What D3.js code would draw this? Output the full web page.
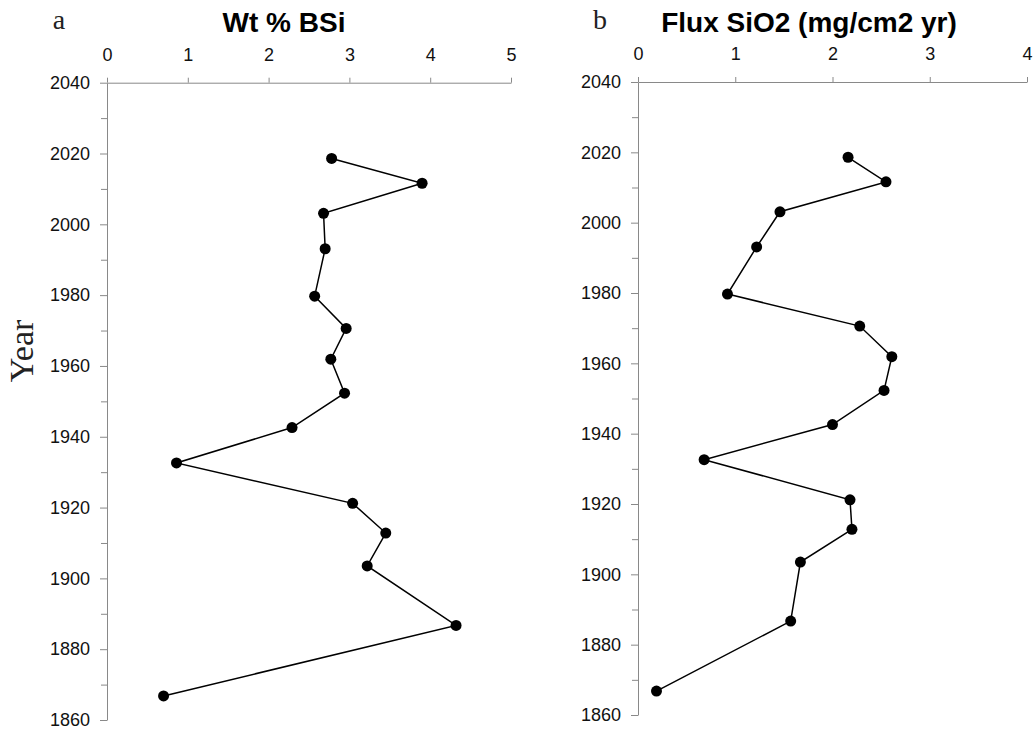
<!DOCTYPE html>
<html>
<head>
<meta charset="utf-8">
<script src="https://cdn.jsdelivr.net/npm/d3@7"></script>
<style>
  body { margin: 0; background: #fff; }
  svg { display: block; }
</style>
</head>
<body>
<svg id="chart" width="1034" height="731"></svg>
<script>
// ---- Data ----
const years = [2018.6, 2011.6, 2003.1, 1993.1, 1979.7, 1970.6, 1961.9, 1952.3, 1942.6, 1932.6, 1921.2, 1912.8, 1903.5, 1886.7, 1866.8];
const bsiValues = [2.78, 3.90, 2.68, 2.70, 2.57, 2.96, 2.77, 2.94, 2.29, 0.86, 3.04, 3.45, 3.22, 4.32, 0.70];
const fluxValues = [2.16, 2.55, 1.46, 1.22, 0.92, 2.28, 2.61, 2.53, 2.00, 0.68, 2.18, 2.20, 1.67, 1.57, 0.19];
const yearTicks = [1860, 1880, 1900, 1920, 1940, 1960, 1980, 2000, 2020, 2040];
const yearMinorTicks = [1870, 1890, 1910, 1930, 1950, 1970, 1990, 2010, 2030];
const bsiTicks = [0, 1, 2, 3, 4, 5];
const fluxTicks = [0, 1, 2, 3, 4];
const panelLetters = ["a", "b"];
const panelTitles = ["Wt % BSi", "Flux SiO2 (mg/cm2 yr)"];
const yTitle = "Year";

const svg = d3.select("#chart");
const axisColor = "#898989";

const panels = [
  { letter: panelLetters[0], title: panelTitles[0], values: bsiValues, xTicks: bsiTicks, xDomain: [0, 5],
    x0: 107, x1: 511, y0: 82.7, y1: 720, titleX: 284, letterX: 59 },
  { letter: panelLetters[1], title: panelTitles[1], values: fluxValues, xTicks: fluxTicks, xDomain: [0, 4],
    x0: 638, x1: 1027, y0: 82, y1: 715, titleX: 809, letterX: 600 }
];

panels.forEach(p => {
  const x = d3.scaleLinear().domain(p.xDomain).range([p.x0, p.x1]);
  const y = d3.scaleLinear().domain([1860, 2040]).range([p.y1, p.y0]);
  const g = svg.append("g");

  // minor y ticks
  g.append("g")
    .attr("transform", `translate(${p.x0},0)`)
    .call(d3.axisLeft(y).tickValues(yearMinorTicks).tickSize(6).tickFormat(""))
    .call(a => a.select(".domain").remove())
    .call(a => a.selectAll("line").attr("stroke", axisColor));

  // major y axis
  g.append("g")
    .attr("transform", `translate(${p.x0},0)`)
    .call(d3.axisLeft(y).tickValues(yearTicks).tickSize(7).tickSizeOuter(0).tickPadding(10).tickFormat(d3.format("d")))
    .call(a => a.select(".domain").attr("stroke", axisColor))
    .call(a => a.selectAll("line").attr("stroke", axisColor))
    .call(a => a.selectAll("text").attr("font-family", "Liberation Sans, Arial, sans-serif").attr("font-size", 18).attr("fill", "#111"));

  // top x axis
  g.append("g")
    .attr("transform", `translate(0,${p.y0})`)
    .call(d3.axisTop(x).tickValues(p.xTicks).tickSize(5).tickSizeOuter(0).tickPadding(17).tickFormat(d3.format("d")))
    .call(a => a.select(".domain").attr("stroke", axisColor))
    .call(a => a.selectAll("line").attr("stroke", axisColor))
    .call(a => a.selectAll("text").attr("font-family", "Liberation Sans, Arial, sans-serif").attr("font-size", 18).attr("fill", "#111"));

  // line
  const pts = years.map((yr, i) => ({ yr, v: p.values[i] }));
  g.append("path")
    .datum(pts)
    .attr("fill", "none")
    .attr("stroke", "#000")
    .attr("stroke-width", 1.5)
    .attr("d", d3.line().x(d => x(d.v)).y(d => y(d.yr)));

  g.selectAll("circle")
    .data(pts)
    .join("circle")
    .attr("cx", d => x(d.v))
    .attr("cy", d => y(d.yr))
    .attr("r", 5.5)
    .attr("fill", "#000");

  // title
  g.append("text")
    .attr("x", p.titleX).attr("y", 32)
    .attr("text-anchor", "middle")
    .attr("font-family", "Liberation Sans, Arial, sans-serif")
    .attr("font-weight", "bold")
    .attr("font-size", 28)
    .attr("fill", "#000")
    .text(p.title);

  g.append("text")
    .attr("x", p.letterX).attr("y", 28.5)
    .attr("text-anchor", "middle")
    .attr("font-family", "Liberation Serif, Times New Roman, serif")
    .attr("font-size", 28)
    .attr("fill", "#222")
    .text(p.letter);
});

svg.append("text")
  .attr("transform", "translate(33,351) rotate(-90)")
  .attr("text-anchor", "middle")
  .attr("font-family", "Liberation Serif, Times New Roman, serif")
  .attr("font-size", 34)
  .attr("fill", "#222")
  .text(yTitle);
</script>
</body>
</html>
